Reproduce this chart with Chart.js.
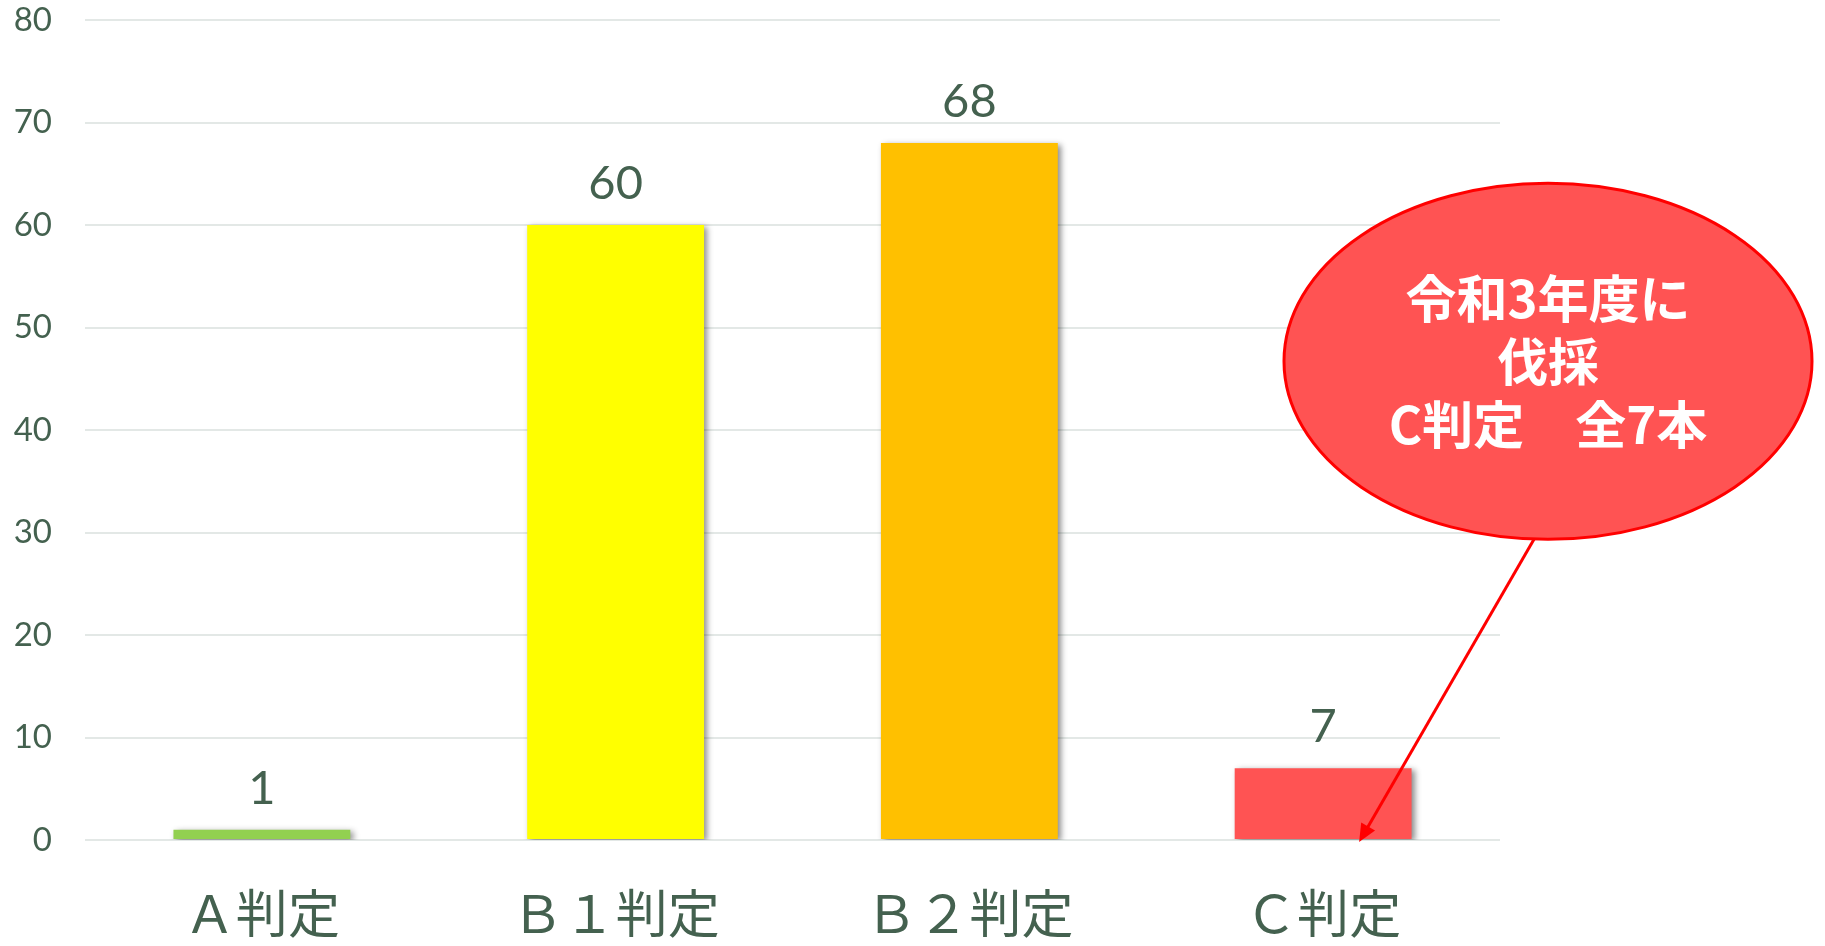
<!DOCTYPE html>
<html>
<head>
<meta charset="utf-8">
<script src="https://cdn.jsdelivr.net/npm/chart.js@4.4.1/dist/chart.umd.min.js"></script>
<style>
  html, body { margin: 0; padding: 0; background: #fff; }
  #wrap { width: 1825px; height: 946px; }
</style>
</head>
<body>
<div id="wrap"><canvas id="myChart" width="1825" height="946"></canvas></div>
<script>
// Data
const categories = ['Ａ判定', 'Ｂ１判定', 'Ｂ２判定', 'Ｃ判定'];
const counts = [1, 60, 68, 7];
const barColors = ['#92D050', '#FFFF00', '#FFC000', '#FF5353'];
const yTicks = [0, 10, 20, 30, 40, 50, 60, 70, 80];

// Callout text
const calloutLines = ['令和3年度に', '伐採', 'C判定\u3000全7本'];

const TEXT_COLOR = '#44614F';
const GRID_COLOR = '#E3E8E6';

// soft shadow behind the bars
const barShadow = {
    id: 'barShadow',
    beforeDatasetsDraw(chart) {
        const ctx = chart.ctx;
        ctx.save();
        ctx.shadowColor = 'rgba(0, 0, 0, 0.45)';
        ctx.shadowBlur = 6;
        ctx.shadowOffsetX = 3;
        ctx.shadowOffsetY = 2;
    },
    afterDatasetsDraw(chart) {
        chart.ctx.restore();
    }
};

// value labels above bars
const valueLabels = {
    id: 'valueLabels',
    afterDatasetsDraw(chart) {
        const ctx = chart.ctx;
        const meta = chart.getDatasetMeta(0);
        ctx.save();
        ctx.font = '47px Lato';
        ctx.fillStyle = TEXT_COLOR;
        ctx.textAlign = 'center';
        ctx.textBaseline = 'alphabetic';
        meta.data.forEach((bar, i) => {
            ctx.fillText(String(counts[i]), bar.x, bar.y - 26);
        });
        ctx.restore();
    }
};

// speech-bubble ellipse with arrow to the C bar
const callout = {
    id: 'callout',
    afterDraw(chart) {
        const ctx = chart.ctx;
        const y = chart.scales.y;
        const area = chart.chartArea;
        const cBar = chart.getDatasetMeta(0).data[3];

        const cx = area.right + 48;
        const cy = y.getPixelForValue(46.7);
        const rx = 264, ry = 178;

        ctx.save();
        // arrow
        const sx = cx - 14, sy = cy + ry;
        const tx = cBar.x + 36, ty = y.getPixelForValue(0) + 2;
        const ang = Math.atan2(ty - sy, tx - sx);
        ctx.strokeStyle = '#FF0000';
        ctx.fillStyle = '#FF0000';
        ctx.lineWidth = 3;
        ctx.beginPath();
        ctx.moveTo(sx, sy);
        ctx.lineTo(tx - 14 * Math.cos(ang), ty - 14 * Math.sin(ang));
        ctx.stroke();
        ctx.beginPath();
        ctx.moveTo(tx, ty);
        ctx.lineTo(tx - 18 * Math.cos(ang) + 8 * Math.sin(ang), ty - 18 * Math.sin(ang) - 8 * Math.cos(ang));
        ctx.lineTo(tx - 18 * Math.cos(ang) - 8 * Math.sin(ang), ty - 18 * Math.sin(ang) + 8 * Math.cos(ang));
        ctx.closePath();
        ctx.fill();

        // ellipse
        ctx.beginPath();
        ctx.ellipse(cx, cy, rx, ry, 0, 0, Math.PI * 2);
        ctx.fillStyle = '#FF5353';
        ctx.fill();
        ctx.lineWidth = 3;
        ctx.strokeStyle = '#FF0000';
        ctx.stroke();

        // text
        ctx.fillStyle = '#FFFFFF';
        ctx.font = 'bold 51px "Noto Sans CJK JP"';
        ctx.textAlign = 'center';
        ctx.textBaseline = 'middle';
        calloutLines.forEach((line, i) => {
            ctx.fillText(line, cx, cy - 63 + i * 63);
        });
        ctx.restore();
    }
};

new Chart(document.getElementById('myChart'), {
    type: 'bar',
    data: {
        labels: categories,
        datasets: [{
            data: counts,
            backgroundColor: barColors,
            borderWidth: 0,
            barPercentage: 0.5,
            categoryPercentage: 1.0
        }]
    },
    options: {
        responsive: false,
        animation: false,
        layout: {
            padding: { top: 20, right: 325, left: 0, bottom: 0 }
        },
        plugins: {
            legend: { display: false },
            tooltip: { enabled: false }
        },
        scales: {
            x: {
                grid: { display: false },
                border: { display: false },
                ticks: {
                    color: TEXT_COLOR,
                    font: { family: '"Noto Sans CJK JP"', size: 52 },
                    padding: 34
                },
                afterFit(scale) {
                    scale.height = 106;
                    scale.paddingLeft = 0;
                    scale.paddingRight = 0;
                }
            },
            y: {
                min: 0,
                max: 80,
                afterBuildTicks(scale) {
                    scale.ticks = yTicks.map(v => ({ value: v }));
                },
                grid: {
                    color: GRID_COLOR,
                    lineWidth: 2,
                    drawTicks: false
                },
                border: { display: false },
                ticks: {
                    color: TEXT_COLOR,
                    font: { family: 'Lato', size: 33 },
                    padding: 33
                },
                afterFit(scale) {
                    scale.width = 85;
                    scale.paddingTop = 0;
                    scale.paddingBottom = 0;
                }
            }
        }
    },
    plugins: [barShadow, valueLabels, callout]
});
</script>
</body>
</html>
